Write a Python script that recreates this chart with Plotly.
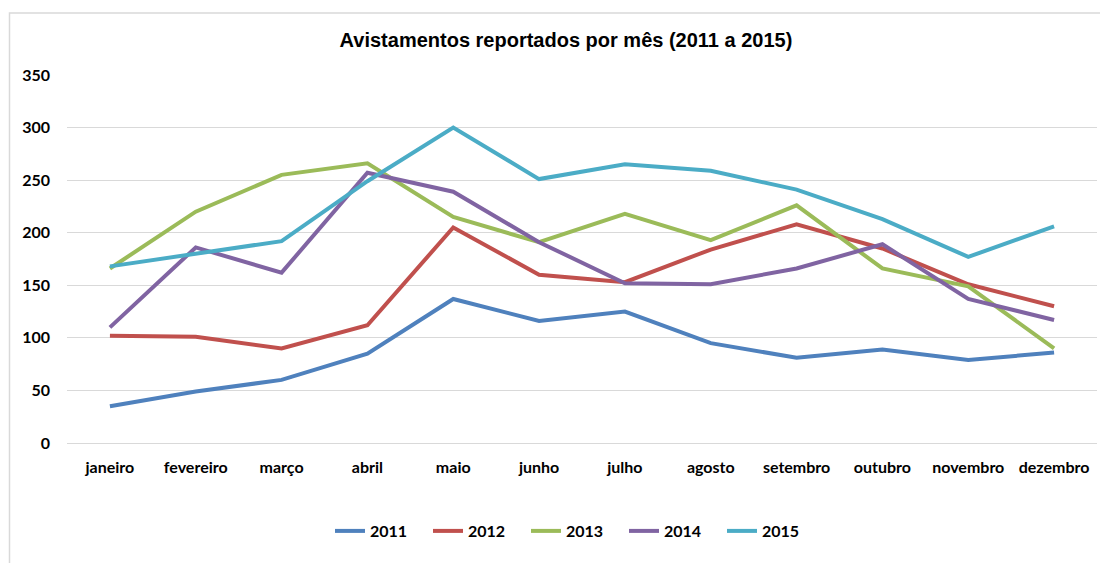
import plotly.graph_objects as go

months = ["janeiro", "fevereiro", "março", "abril", "maio", "junho",
          "julho", "agosto", "setembro", "outubro", "novembro", "dezembro"]
y2011 = [35, 49, 60, 85, 137, 116, 125, 95, 81, 89, 79, 86]
y2012 = [102, 101, 90, 112, 205, 160, 153, 184, 208, 185, 151, 130]
y2013 = [166, 220, 255, 266, 215, 191, 218, 193, 226, 166, 149, 90]
y2014 = [110, 186, 162, 257, 239, 191, 152, 151, 166, 189, 137, 117]
y2015 = [168, 180, 192, 249, 300, 251, 265, 259, 241, 213, 177, 206]
years = ["2011", "2012", "2013", "2014", "2015"]
series = [y2011, y2012, y2013, y2014, y2015]
colors = ["#4F81BD", "#C0504D", "#9BBB59", "#8064A2", "#4BACC6"]

fig = go.Figure()
for name, vals, col in zip(years, series, colors):
    fig.add_trace(go.Scatter(x=months, y=vals, name=name, mode="lines",
                             line=dict(color=col, width=4)))

# page has an 8px body margin; compensate so the figure fills the window
OFF = 8
W, H = 1108 - OFF, 563 - OFF
PL, PT, PR, PB = 67, 75, 1097, 443  # plot area in page pixels
L, T = PL - OFF, PT - OFF
R, B = W - (PR - OFF), H - (PB - OFF)

def px_to_paper_x(px):
    return (px - PL) / (PR - PL)

def px_to_paper_y(py):
    return (PB - py) / (PB - PT)

tick_font = dict(family="Lato", size=16, color="black", weight="bold")

fig.update_layout(
    width=W, height=H,
    margin=dict(l=L, r=R, t=T, b=B),
    paper_bgcolor="white", plot_bgcolor="white",
    title=dict(text="<b>Avistamentos reportados por mês (2011 a 2015)</b>",
               x=(566 - OFF) / W, xanchor="center",
               y=1 - (40 - OFF) / H, yanchor="middle", yref="container",
               font=dict(family="Liberation Sans, Arial", size=20, color="black")),
    font=dict(family="Lato", color="black"),
    xaxis=dict(showgrid=False, showline=False, ticks="", range=[-0.5, 11.5],
               tickfont=tick_font, ticklabelstandoff=13),
    yaxis=dict(range=[0, 350], dtick=50, showgrid=True, gridcolor="#D9D9D9",
               gridwidth=1, zeroline=True, zerolinecolor="#D9D9D9", zerolinewidth=1,
               showline=False, ticks="",
               tickfont=tick_font, ticklabelstandoff=16),
    showlegend=True,
    legend=dict(orientation="h", x=px_to_paper_x(575), xanchor="center",
                y=px_to_paper_y(531), yanchor="middle",
                font=tick_font, itemwidth=30, entrywidth=53, tracegroupgap=0),
    shapes=[dict(type="rect", xref="paper", yref="paper",
                 x0=px_to_paper_x(9.5), x1=px_to_paper_x(1140),
                 y0=px_to_paper_y(620), y1=px_to_paper_y(13),
                 line=dict(color="#D9D9D9", width=1.5), fillcolor="rgba(0,0,0,0)",
                 layer="below")],
)

fig.write_html("out.html")
